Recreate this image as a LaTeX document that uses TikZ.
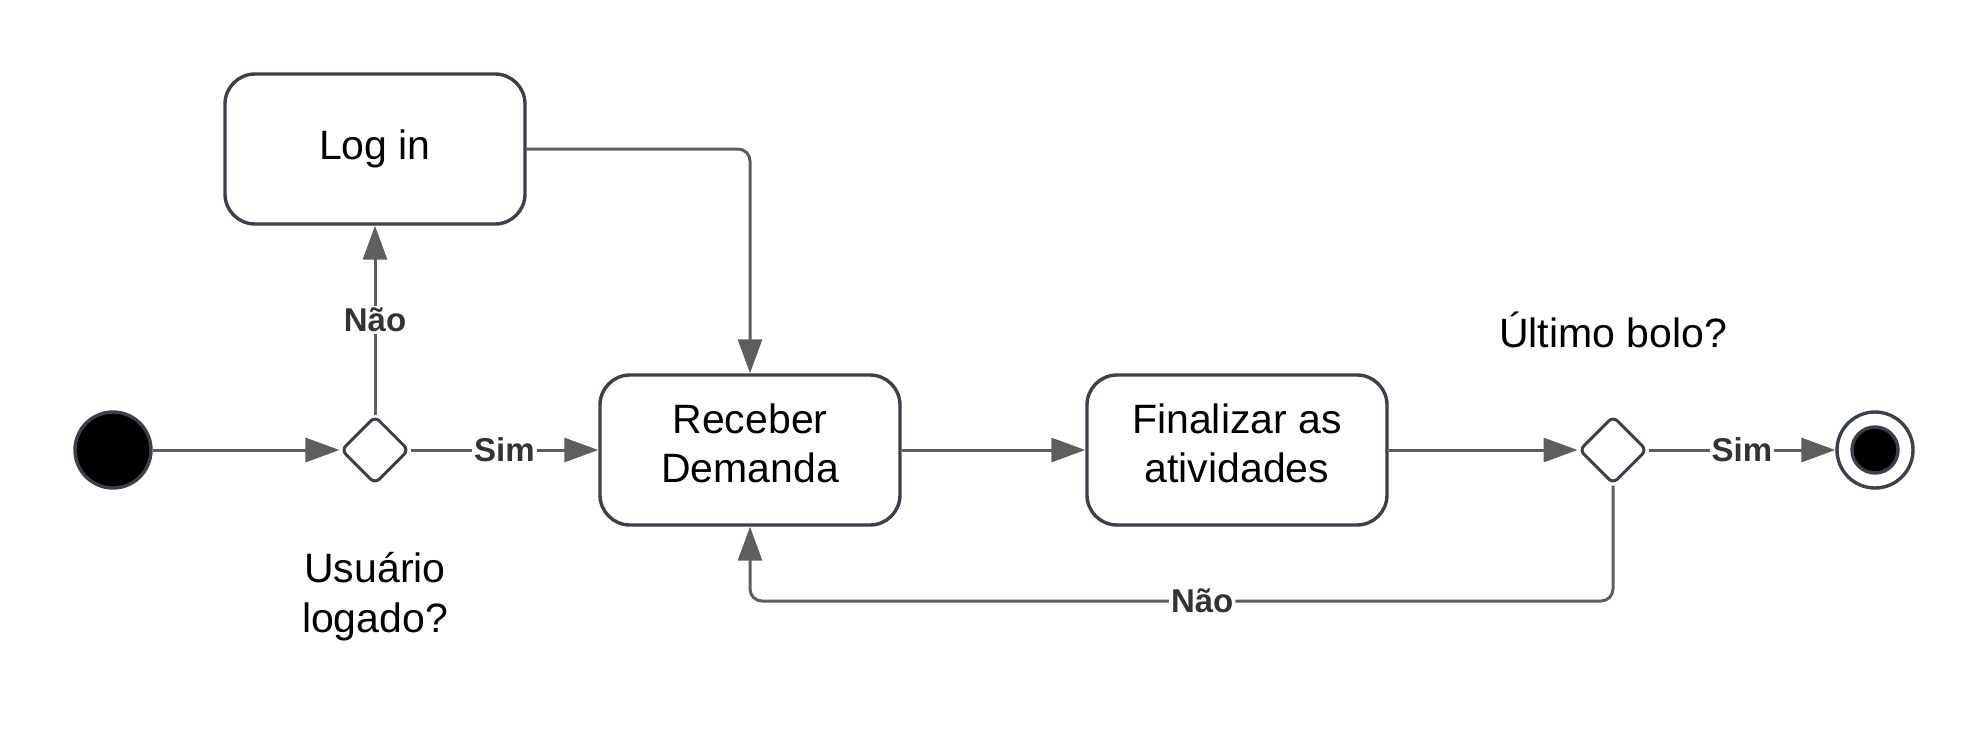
\documentclass[tikz,border=0pt]{standalone}
\usepackage{fontspec}
\setmainfont{Liberation Sans}
\usetikzlibrary{shapes.geometric,arrows.meta}
\definecolor{edgecol}{HTML}{5E5E5E}
\definecolor{bordercol}{HTML}{3A414A}
\definecolor{lblcol}{HTML}{333333}
\begin{document}
\begin{tikzpicture}[x=0.5pt,y=-0.5pt,
  act/.style={draw=bordercol,line width=1.7pt,rounded corners=15pt,minimum width=150pt,minimum height=75pt,align=center,inner sep=0pt,font=\fontsize{20.5}{24.5}\selectfont},
  dec/.style={diamond,draw=bordercol,line width=1.5pt,rounded corners=3pt,minimum width=34pt,minimum height=34pt,inner sep=0pt,fill=white},
  flow/.style={draw=edgecol,line width=1.5pt,-{Triangle[length=17pt,width=12pt]}},
  lbl/.style={fill=white,text=lblcol,font=\bfseries\fontsize{16.5}{19}\selectfont,inner sep=1pt},
  txt/.style={align=center,inner sep=0pt,font=\fontsize{20.5}{25}\selectfont}]
\useasboundingbox (0,0) rectangle (1988,750);
\node[circle,fill=black,draw=bordercol,line width=1.7pt,minimum size=38pt,inner sep=0pt] (start) at (113,450) {};
\node[dec] (d1) at (375,450) {};
\node[act] (login) at (375,149) {Log in};
\node[act] (recv) at (750,450) {Receber\\Demanda\strut};
\node[act] (fin) at (1237,450) {Finalizar as\\atividades\strut};
\node[dec] (d2) at (1613,450) {};
\node[circle,draw=bordercol,line width=1.7pt,fill=white,minimum size=38pt,inner sep=0pt] (end) at (1875,450) {};
\node[circle,fill=black,draw=bordercol,line width=1.7pt,minimum size=23pt,inner sep=0pt] (endin) at (end.center) {};
\node[txt] (q1) at (375,597) {Usuário\\logado?};
\node[txt] (q2) at (1613,330) {Último bolo?};
\coordinate (lp) at (1613,601);
\draw[flow] (start) -- (d1);
\draw[flow] (d1) -- node[lbl]{Não} (login);
\draw[flow] (d1) -- node[lbl]{Sim} (recv);
\draw[flow,rounded corners=6pt] (login.east) -| (recv.north);
\draw[flow] (recv) -- (fin);
\draw[flow] (fin) -- (d2);
\draw[flow] (d2) -- node[lbl]{Sim} (end);
\draw[flow,rounded corners=6pt] (d2.south) -- (lp) -| node[lbl,pos=0.238]{Não} (recv.south);
\end{tikzpicture}
\end{document}
